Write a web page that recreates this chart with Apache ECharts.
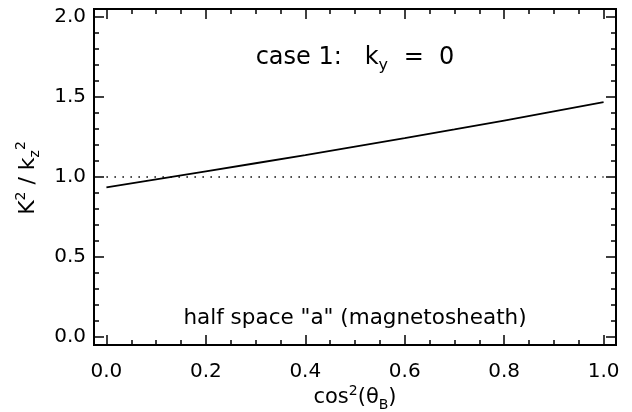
<!DOCTYPE html>
<html>
<head>
<meta charset="utf-8">
<script src="https://cdn.jsdelivr.net/npm/echarts@6/dist/echarts.min.js"></script>
<style>
html,body{margin:0;padding:0;background:#fff;}
#c{width:632px;height:412px;}
</style>
</head>
<body>
<div id="c"></div>
<script>
// ---- data ----
var cos2Theta = [0.0, 0.1, 0.2, 0.3, 0.4, 0.5, 0.6, 0.7, 0.8, 0.9, 1.0];
var kRatio   = [0.935, 0.985, 1.035, 1.086, 1.137, 1.190, 1.243, 1.297, 1.353, 1.410, 1.468];
var refLineX = [0.0, 1.0];
var refLineY = [1.0, 1.0];
var xMajorTicks = [0.0, 0.2, 0.4, 0.6, 0.8, 1.0];
var xMinorTicks = [0.05, 0.1, 0.15, 0.25, 0.3, 0.35, 0.45, 0.5, 0.55, 0.65, 0.7, 0.75, 0.85, 0.9, 0.95];
var yMajorTicks = [0.0, 0.5, 1.0, 1.5, 2.0];
var yMinorTicks = [0.1, 0.2, 0.3, 0.4, 0.6, 0.7, 0.8, 0.9, 1.1, 1.2, 1.3, 1.4, 1.6, 1.7, 1.8, 1.9];

var FONT = 'DejaVu Sans';
var X_MIN = -0.025, X_MAX = 1.025, Y_MIN = -0.05, Y_MAX = 2.05;

function pairs(xs, ys){ return xs.map(function(x,i){ return [x, ys[i]]; }); }

function mkAxis(pos, min, max, ticks, len, labels, margin){
  return {
    type: 'value', position: pos, min: min, max: max,
    axisLine: {show: true, onZero: false, lineStyle: {color: '#000', width: 2}},
    axisTick: {show: true, inside: true, length: len, customValues: ticks,
               lineStyle: {color: '#000', width: 1.5}},
    axisLabel: labels ? {show: true, customValues: ticks, margin: margin,
               fontFamily: FONT, fontSize: 20, color: '#000',
               formatter: function(v){ return (+v).toFixed(1); }} : {show: false},
    splitLine: {show: false}, minorTick: {show: false}
  };
}

var chart = echarts.init(document.getElementById('c'), null, {renderer: 'canvas'});
var supStyle = {fontFamily: FONT, fontSize: 14, color: '#000', verticalAlign: 'top', lineHeight: 28};
var subStyle = {fontFamily: FONT, fontSize: 14, color: '#000', verticalAlign: 'bottom', lineHeight: 24};
var baseStyle = {fontFamily: FONT, fontSize: 21, color: '#000', lineHeight: 28};

chart.setOption({
  animation: false,
  backgroundColor: '#fff',
  grid: {left: 94, right: 16, top: 9, bottom: 67, containLabel: false},
  xAxis: [
    mkAxis('bottom', X_MIN, X_MAX, xMajorTicks, 10, true, 17),
    mkAxis('bottom', X_MIN, X_MAX, xMinorTicks, 5, false),
    mkAxis('top', X_MIN, X_MAX, xMajorTicks, 10, false),
    mkAxis('top', X_MIN, X_MAX, xMinorTicks, 5, false)
  ],
  yAxis: [
    mkAxis('left', Y_MIN, Y_MAX, yMajorTicks, 10, true, 8),
    mkAxis('left', Y_MIN, Y_MAX, yMinorTicks, 5, false),
    mkAxis('right', Y_MIN, Y_MAX, yMajorTicks, 10, false),
    mkAxis('right', Y_MIN, Y_MAX, yMinorTicks, 5, false)
  ],
  series: [
    {type: 'line', xAxisIndex: 0, yAxisIndex: 0, data: pairs(refLineX, refLineY),
     showSymbol: false, symbol: 'none',
     lineStyle: {color: '#000', width: 1.5, type: [1.5, 6.5]}},
    {type: 'line', xAxisIndex: 0, yAxisIndex: 0, data: pairs(cos2Theta, kRatio),
     showSymbol: false, symbol: 'none',
     lineStyle: {color: '#000', width: 1.8}}
  ],
  graphic: [
    {type: 'text', x: 355, y: 58, style: {
      text: '{b|case 1:   k}{sub|y}{b| =  0}', align: 'center', verticalAlign: 'middle',
      rich: {
        b: {fontFamily: FONT, fontSize: 24, fill: '#000', lineHeight: 32},
        sub: {fontFamily: FONT, fontSize: 16, fill: '#000', verticalAlign: 'bottom', lineHeight: 26, padding: [0,8,0,0]}
      }
    }},
    {type: 'text', x: 355, y: 318, style: {
      text: 'half space "a" (magnetosheath)', align: 'center', verticalAlign: 'middle',
      fontFamily: FONT, fontSize: 21.5, fill: '#000'
    }},
    {type: 'text', x: 355, y: 398, style: {
      text: '{b|cos}{sup|2}{b|(θ}{sub|B}{b|)}', align: 'center', verticalAlign: 'middle',
      rich: {b: baseStyle, sup: supStyle, sub: subStyle}
    }},
    {type: 'text', x: 28, y: 178, rotation: Math.PI/2, style: {
      text: '{b|K}{sup|2}{b| / k}{sub|z}{sup|2}', align: 'center', verticalAlign: 'middle',
      rich: {b: {fontFamily: FONT, fontSize: 22, color: '#000', lineHeight: 28}, sup: supStyle, sub: subStyle}
    }}
  ]
});
</script>
</body>
</html>
